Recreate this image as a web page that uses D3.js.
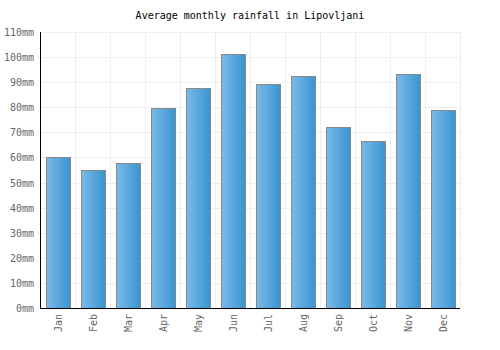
<!DOCTYPE html>
<html>
<head>
<meta charset="utf-8">
<script src="https://cdn.jsdelivr.net/npm/d3@7"></script>
<style>
  body { margin: 0; background: #fff; }
  text { font-family: "DejaVu Sans Mono", monospace; }
</style>
</head>
<body>
<script>
// Width and height
var w = 500;
var h = 350;
var margin = { top: 32, right: 40, bottom: 42, left: 40 };

// Data
var months = ["Jan", "Feb", "Mar", "Apr", "May", "Jun", "Jul", "Aug", "Sep", "Oct", "Nov", "Dec"];
var rainfall = [60, 55, 57.7, 79.7, 87.6, 101.2, 89.2, 92.4, 72.2, 66.5, 93.2, 79];
var yTicks = [0, 10, 20, 30, 40, 50, 60, 70, 80, 90, 100, 110];

// Scales
var xScale = d3.scaleBand()
              .domain(months)
              .range([margin.left, w - margin.right])
              .paddingInner(0.32)
              .paddingOuter(0.16);

var xGrid = d3.scaleBand()
              .domain(months)
              .range([margin.left, w - margin.right]);

var yScale = d3.scaleLinear()
              .domain([0, 110])
              .range([h - margin.bottom, margin.top]);

var svg = d3.select("body")
            .append("svg")
            .attr("width", w)
            .attr("height", h);

// Gradient for bars
var grad = svg.append("defs").append("linearGradient")
  .attr("id", "barGrad")
  .attr("x1", "0%").attr("x2", "100%")
  .attr("y1", "0%").attr("y2", "0%");
grad.append("stop").attr("offset", "0%").attr("stop-color", "#7cb9ea");
grad.append("stop").attr("offset", "100%").attr("stop-color", "#3895cf");

// Horizontal grid
svg.append("g")
  .selectAll("line")
  .data(yTicks)
  .enter()
  .append("line")
  .attr("x1", margin.left)
  .attr("x2", w - margin.right)
  .attr("y1", function(d) { return Math.round(yScale(d)) + 0.5; })
  .attr("y2", function(d) { return Math.round(yScale(d)) + 0.5; })
  .attr("stroke", "#eeeeee");

// Vertical grid
svg.append("g")
  .selectAll("line")
  .data(months)
  .enter()
  .append("line")
  .attr("x1", function(d) { return Math.round(xGrid(d) + xGrid.bandwidth()) + 0.5; })
  .attr("x2", function(d) { return Math.round(xGrid(d) + xGrid.bandwidth()) + 0.5; })
  .attr("y1", margin.top)
  .attr("y2", h - margin.bottom)
  .attr("stroke", "#eeeeee");

// Bars
svg.append("g")
  .selectAll("rect")
  .data(rainfall)
  .enter()
  .append("rect")
  .attr("x", function(d, i) { return Math.round(xScale(months[i])) + 0.5; })
  .attr("y", function(d) { return Math.round(yScale(d)) + 0.5; })
  .attr("width", Math.round(xScale.bandwidth()))
  .attr("height", function(d) { return Math.round(yScale(0)) - Math.round(yScale(d)); })
  .attr("fill", "url(#barGrad)")
  .attr("stroke", "#888888")
  .attr("stroke-width", 1);

// Title
svg.append("text")
  .attr("x", w / 2)
  .attr("y", 19)
  .attr("text-anchor", "middle")
  .attr("font-size", "10px")
  .attr("fill", "#000")
  .text("Average monthly rainfall in Lipovljani");

// Y axis labels
svg.append("g")
  .selectAll("text")
  .data(yTicks)
  .enter()
  .append("text")
  .attr("x", margin.left - 6)
  .attr("y", function(d) { return yScale(d) + 4; })
  .attr("text-anchor", "end")
  .attr("font-size", "10px")
  .attr("fill", "#666")
  .text(function(d) { return d + "mm"; });

// X axis labels
svg.append("g")
  .selectAll("text")
  .data(months)
  .enter()
  .append("text")
  .attr("transform", function(d) {
    return "translate(" + (xGrid(d) + xGrid.bandwidth() / 2 + 4) + "," + (h - margin.bottom + 6) + ") rotate(-90)";
  })
  .attr("text-anchor", "end")
  .attr("font-size", "10px")
  .attr("fill", "#666")
  .text(function(d) { return d; });

// Axis lines
svg.append("line")
  .attr("x1", margin.left + 0.5).attr("x2", margin.left + 0.5)
  .attr("y1", margin.top).attr("y2", h - margin.bottom + 0.5)
  .attr("stroke", "#000");
svg.append("line")
  .attr("x1", margin.left).attr("x2", w - margin.right)
  .attr("y1", h - margin.bottom + 0.5).attr("y2", h - margin.bottom + 0.5)
  .attr("stroke", "#000");
</script>
</body>
</html>
